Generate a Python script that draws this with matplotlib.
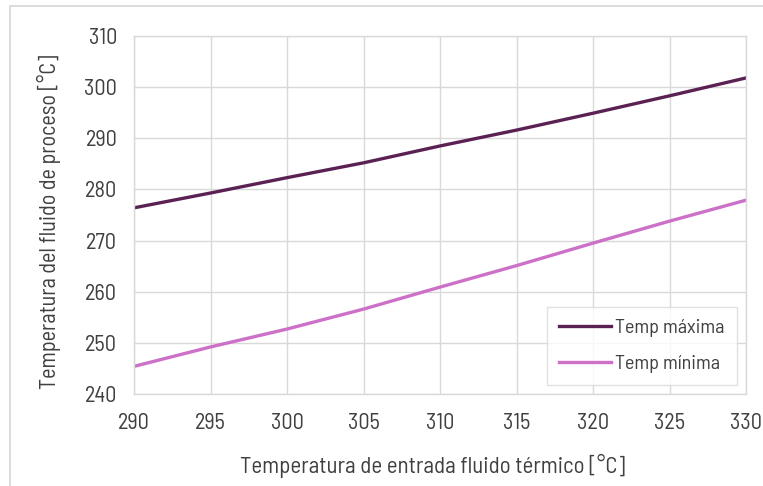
import matplotlib
matplotlib.use("Agg")
import matplotlib.pyplot as plt
from matplotlib.patches import Rectangle

# data
temp_entrada = [290, 295, 300, 305, 310, 315, 320, 325, 330]
temp_maxima = [276.4, 279.3, 282.3, 285.2, 288.5, 291.6, 294.9, 298.3, 301.8]
temp_minima = [245.4, 249.2, 252.7, 256.6, 260.9, 265.1, 269.5, 273.8, 277.9]
x_ticks = [290, 295, 300, 305, 310, 315, 320, 325, 330]
y_ticks = [240, 250, 260, 270, 280, 290, 300, 310]

plt.rcParams["font.family"] = ["Barlow Semi Condensed", "Roboto Condensed", "DejaVu Sans"]

text_color = "#404040"
grid_color = "#d9d9d9"

fig = plt.figure(figsize=(7.63, 4.86), dpi=100)
ax = fig.add_axes([134 / 763, 1 - 394 / 486, (746 - 134) / 763, (394 - 36) / 486])

# outer chart frame (only top and left edges fall inside the picture)
fig.patches.append(Rectangle((10 / 763, -0.05), 1.1, 1.05 - 6 / 486,
                             transform=fig.transFigure, fill=False,
                             edgecolor=grid_color, linewidth=1.3))

ax.plot(temp_entrada, temp_maxima, color="#5b2153", linewidth=2.4, label="Temp máxima")
ax.plot(temp_entrada, temp_minima, color="#cc70c8", linewidth=2.4, label="Temp mínima")

ax.set_xlim(290, 330)
ax.set_ylim(240, 310)
ax.set_xticks(x_ticks)
ax.set_yticks(y_ticks)
ax.grid(True, color=grid_color, linewidth=1.0)
ax.set_axisbelow(True)
for s in ax.spines.values():
    s.set_color(grid_color)
    s.set_linewidth(1.0)
ax.tick_params(length=0, colors=text_color, labelsize=16)
ax.tick_params(axis="x", pad=14)
ax.tick_params(axis="y", pad=12)

ax.set_xlabel("Temperatura de entrada fluido térmico [°C]", fontsize=16.5,
              color=text_color)
ax.set_ylabel("Temperatura del fluido de proceso [°C]", fontsize=16,
              color=text_color)
ax.xaxis.set_label_coords(0.488, -0.168)
ax.yaxis.set_label_coords(-0.12, 0.48)

leg = ax.legend(loc="lower right", bbox_to_anchor=(0.985, 0.025), fontsize=14.5,
                frameon=True, fancybox=False, edgecolor=grid_color,
                handlelength=2.6, handletextpad=0.2, labelspacing=0.9,
                borderpad=0.6, borderaxespad=0, labelcolor=text_color)
leg.get_frame().set_linewidth(1.0)

fig.savefig("out.png", dpi=100)
